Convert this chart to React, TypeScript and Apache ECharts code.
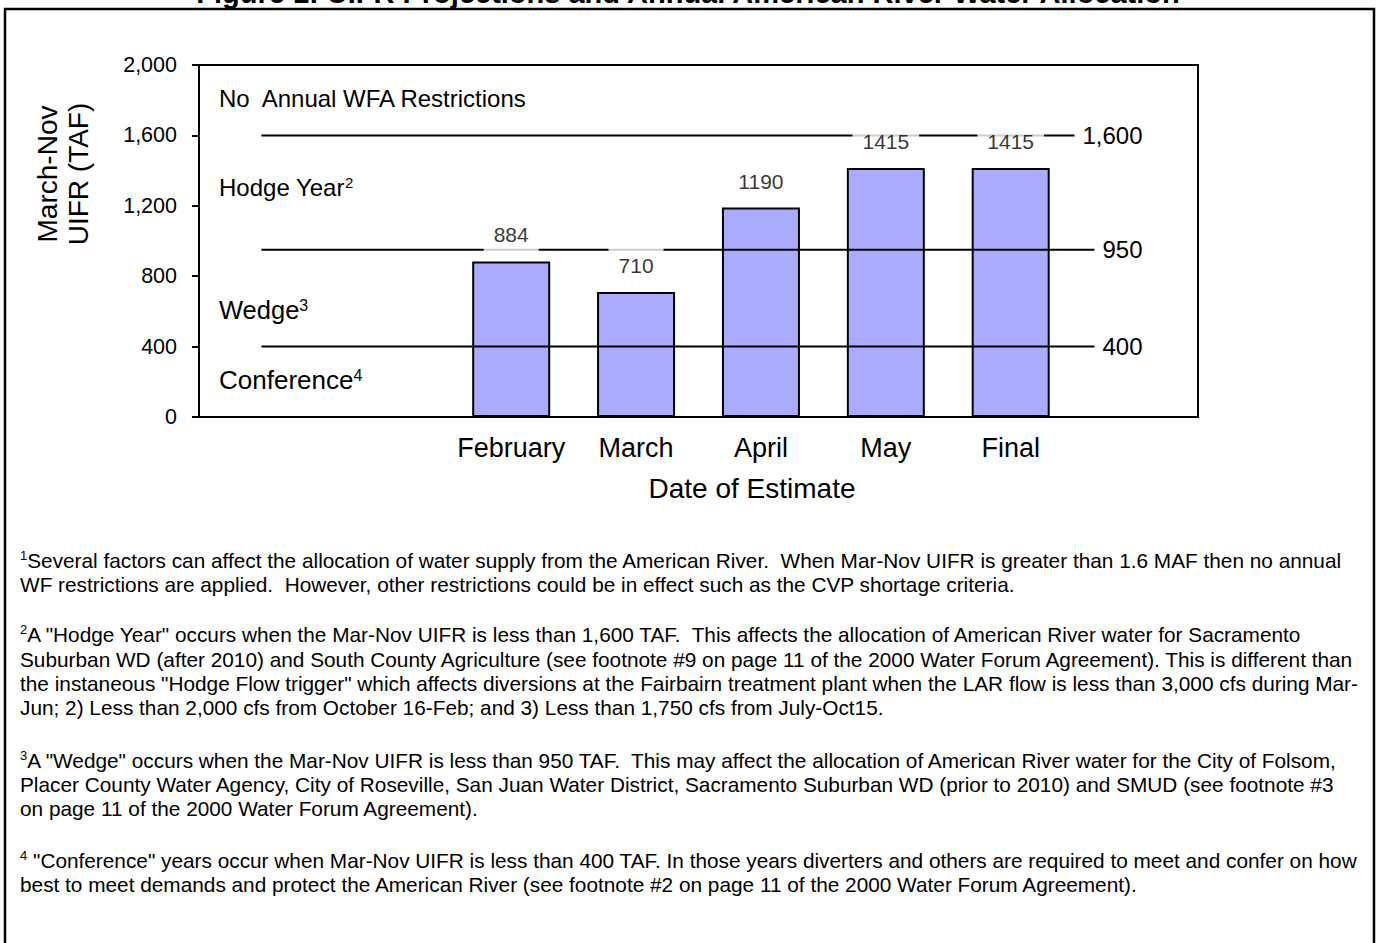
import React, { useEffect, useRef } from 'react';
import * as echarts from 'echarts';

const categories = ['', '', 'February', 'March', 'April', 'May', 'Final', ''];
const uifrValues: (number | null)[] = [null, null, 884, 710, 1190, 1415, 1415, null];
const thresholdValues = [1600, 950, 400];
const thresholdLabels = ['1,600', '950', '400'];
const yTickLabels = ['0', '400', '800', '1,200', '1,600', '2,000'];
const zoneNames = ['No  Annual WFA Restrictions', 'Hodge Year', 'Wedge', 'Conference'];
const zoneNotes = ['', '2', '3', '4'];

const titleText = 'Figure 1: UIFR Projections and Annual American River Water Allocation';
const xAxisTitle = 'Date of Estimate';
const yAxisTitle = 'March-Nov\nUIFR (TAF)';

const footnotes: { sup: string; lines: string[] }[] = [
  {
    sup: '1',
    lines: [
      'Several factors can affect the allocation of water supply from the American River.  When Mar-Nov UIFR is greater than 1.6 MAF then no annual',
      'WF restrictions are applied.  However, other restrictions could be in effect such as the CVP shortage criteria.',
    ],
  },
  {
    sup: '2',
    lines: [
      'A "Hodge Year" occurs when the Mar-Nov UIFR is less than 1,600 TAF.  This affects the allocation of American River water for Sacramento',
      'Suburban WD (after 2010) and South County Agriculture (see footnote #9 on page 11 of the 2000 Water Forum Agreement). This is different than',
      'the instaneous "Hodge Flow trigger" which affects diversions at the Fairbairn treatment plant when the LAR flow is less than 3,000 cfs during Mar-',
      'Jun; 2) Less than 2,000 cfs from October 16-Feb; and 3) Less than 1,750 cfs from July-Oct15.',
    ],
  },
  {
    sup: '3',
    lines: [
      'A "Wedge" occurs when the Mar-Nov UIFR is less than 950 TAF.  This may affect the allocation of American River water for the City of Folsom,',
      'Placer County Water Agency, City of Roseville, San Juan Water District, Sacramento Suburban WD (prior to 2010) and SMUD (see footnote #3',
      'on page 11 of the 2000 Water Forum Agreement).',
    ],
  },
  {
    sup: '4',
    lines: [
      ' "Conference" years occur when Mar-Nov UIFR is less than 400 TAF. In those years diverters and others are required to meet and confer on how',
      'best to meet demands and protect the American River (see footnote #2 on page 11 of the 2000 Water Forum Agreement).',
    ],
  },
];

const FONT = '"Liberation Sans", Arial, Helvetica, sans-serif';
const zoneY = [98, 187, 310, 380];
const zoneSize = [24, 24, 25.5, 26];
const footY = [[560, 584], [634, 659, 683, 707], [760, 784, 808], [860, 884]];
const FOOT_SIZE = 20.8;

export default function App() {
  const ref = useRef<HTMLDivElement>(null);

  useEffect(() => {
    if (!ref.current) return;
    const chart = echarts.init(ref.current, null, { renderer: 'svg' });
    const last = categories.length - 1;

    const lineSeries = thresholdValues.map((t, k) => ({
      type: 'line',
      z: 3,
      silent: true,
      symbol: 'circle',
      symbolSize: 0.01,
      showSymbol: true,
      itemStyle: { color: '#000' },
      lineStyle: { color: '#000', width: 2 },
      label: {
        show: false,
        position: 'left',
        distance: 0,
        offset: [15, 0],
        fontSize: 24,
        fontFamily: FONT,
        color: '#000',
        backgroundColor: '#fff',
        padding: [3, 8],
      },
      emphasis: { disabled: true },
      data: categories.map((_, i) =>
        i === last ? { value: t, label: { show: true, formatter: thresholdLabels[k] } } : t
      ),
    }));

    const graphics: any[] = [
      {
        type: 'rect',
        shape: { x: 5, y: 9, width: 1369, height: 1000 },
        style: { fill: 'none', stroke: '#000', lineWidth: 2.5 },
        silent: true,
      },
      {
        type: 'text',
        x: 688,
        y: -7,
        style: {
          text: titleText,
          font: `bold 29px ${FONT}`,
          fill: '#000',
          align: 'center',
          verticalAlign: 'middle',
        },
      },
      {
        type: 'text',
        x: 63,
        y: 174,
        rotation: Math.PI / 2,
        style: {
          text: yAxisTitle,
          fontSize: 28,
          fontFamily: FONT,
          lineHeight: 31,
          fill: '#000',
          align: 'center',
          verticalAlign: 'middle',
        },
      },
      {
        type: 'text',
        x: 752,
        y: 488,
        style: {
          text: xAxisTitle,
          fontSize: 28,
          fontFamily: FONT,
          fill: '#000',
          align: 'center',
          verticalAlign: 'middle',
        },
      },
    ];

    zoneNames.forEach((name, i) => {
      graphics.push({
        type: 'text',
        x: 219,
        y: zoneY[i],
        style: {
          text: zoneNotes[i] ? `{a|${name}}{s|${zoneNotes[i]}}` : `{a|${name}}`,
          align: 'left',
          verticalAlign: 'middle',
          rich: {
            a: { fontSize: zoneSize[i], fontFamily: FONT, fill: '#000' },
            s: { fontSize: Math.round(zoneSize[i] * 0.62), fontFamily: FONT, fill: '#000', verticalAlign: 'top' },
          },
        },
      });
    });

    footnotes.forEach((fn, p) => {
      fn.lines.forEach((line, j) => {
        graphics.push({
          type: 'text',
          x: 20,
          y: footY[p][j],
          style: {
            text: j === 0 ? `{s|${fn.sup}}{a|${line}}` : `{a|${line}}`,
            align: 'left',
            verticalAlign: 'middle',
            rich: {
              a: { fontSize: FOOT_SIZE, fontFamily: FONT, fill: '#000', lineHeight: 23 },
              s: { fontSize: 13, fontFamily: FONT, fill: '#000', verticalAlign: 'top' },
            },
          },
        });
      });
    });

    chart.setOption({
      animation: false,
      backgroundColor: '#fff',
      grid: {
        left: 199,
        top: 65,
        width: 999,
        height: 352,
        show: true,
        borderColor: '#000',
        borderWidth: 2,
        backgroundColor: 'transparent',
        containLabel: false,
      },
      xAxis: {
        type: 'category',
        data: categories,
        boundaryGap: true,
        axisTick: { show: false },
        axisLine: { show: true, lineStyle: { color: '#000', width: 2 } },
        axisLabel: { fontSize: 27, fontFamily: FONT, color: '#000', margin: 17, interval: 0 },
        splitLine: { show: false },
      },
      yAxis: {
        type: 'value',
        min: 0,
        max: 2000,
        interval: 400,
        axisLine: { show: true, lineStyle: { color: '#000', width: 2 } },
        axisTick: { show: true, inside: false, length: 7, lineStyle: { color: '#000', width: 2 } },
        axisLabel: {
          fontSize: 21.5,
          fontFamily: FONT,
          color: '#000',
          margin: 22,
          formatter: (v: number) => yTickLabels[Math.round(v / 400)] ?? String(v),
        },
        splitLine: { show: false },
      },
      series: [
        {
          type: 'bar',
          z: 2,
          silent: true,
          barWidth: 78,
          data: uifrValues,
          itemStyle: { color: '#AAAAFF', borderColor: '#000', borderWidth: 2 },
          emphasis: { disabled: true },
        },
        ...lineSeries,
        {
          type: 'scatter',
          z: 4,
          silent: true,
          symbolSize: 0.01,
          itemStyle: { color: 'transparent' },
          data: uifrValues,
          label: {
            show: true,
            position: 'top',
            distance: 3,
            fontSize: 21,
            fontFamily: FONT,
            color: '#000',
            backgroundColor: '#fff',
            padding: [13, 10],
          },
          emphasis: { disabled: true },
        },
      ],
      graphic: graphics,
    });

    return () => chart.dispose();
  }, []);

  return (
    <div
      ref={ref}
      style={{ position: 'absolute', left: 0, top: 0, width: 1377, height: 943, background: '#fff' }}
    />
  );
}
